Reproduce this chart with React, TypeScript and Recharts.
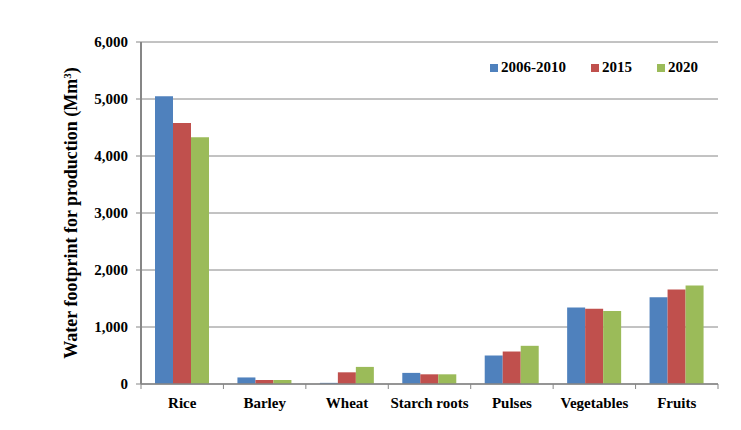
import { BarChart, Bar, XAxis, YAxis, CartesianGrid } from 'recharts';

const categories = ['Rice', 'Barley', 'Wheat', 'Starch roots', 'Pulses', 'Vegetables', 'Fruits'];
const values2006 = [5050, 115, 20, 195, 500, 1340, 1520];
const values2015 = [4580, 70, 205, 170, 570, 1320, 1660];
const values2020 = [4330, 70, 300, 170, 670, 1280, 1730];
const seriesNames = ['2006-2010', '2015', '2020'];
const seriesKeys = ['p2006', 'p2015', 'p2020'];
const seriesColors = ['#4F81BD', '#C0504D', '#9BBB59'];
const yTicks = [0, 1000, 2000, 3000, 4000, 5000, 6000];

const data = categories.map((name, i) => ({
  name,
  p2006: values2006[i],
  p2015: values2015[i],
  p2020: values2020[i],
}));

const font = "'Times New Roman', 'Liberation Serif', serif";
const axisGray = '#868686';

function YLabel() {
  return (
    <text
      x={77}
      y={213}
      transform="rotate(-90 77 213)"
      textAnchor="middle"
      fontFamily={font}
      fontWeight="bold"
      fontSize={18}
      fill="#000"
    >
      Water footprint for production (Mm
      <tspan baselineShift="super" fontSize={11}>3</tspan>)
    </text>
  );
}

// category label plus the boundary tick marks Excel draws between groups
function CatTick(props: any) {
  const { x, y, payload, index } = props;
  const half = payload?.offset || 41.2;
  const y0 = y - 13;
  return (
    <g>
      <line x1={x - half} x2={x - half} y1={y0} y2={y0 + 5} stroke={axisGray} />
      {index === categories.length - 1 && (
        <line x1={x + half} x2={x + half} y1={y0} y2={y0 + 5} stroke={axisGray} />
      )}
      <text
        x={x}
        y={y}
        dy="0.71em"
        textAnchor="middle"
        fill="#000"
        fontFamily={font}
        fontWeight="bold"
        fontSize={15}
      >
        {payload.value}
      </text>
    </g>
  );
}

export default function App() {
  return (
    <div style={{ position: 'absolute', left: 0, top: 0, width: 741, height: 430, background: '#fff' }}>
      <BarChart
        width={741}
        height={430}
        data={data}
        margin={{ top: 42, right: 23, bottom: 10, left: 0 }}
        barCategoryGap={14}
        barGap={0}
      >
        <CartesianGrid vertical={false} stroke={axisGray} strokeWidth={1} />
        <XAxis
          dataKey="name"
          axisLine={{ stroke: axisGray, strokeWidth: 1.5 }}
          tickLine={false}
          tickSize={5}
          tickMargin={8}
          height={36}
          interval={0}
          tick={<CatTick />}
        />
        <YAxis
          width={141}
          domain={[0, 6000]}
          ticks={yTicks}
          interval={0}
          axisLine={{ stroke: axisGray, strokeWidth: 2 }}
          tickLine={{ stroke: axisGray }}
          tickSize={5}
          tickMargin={8}
          tickFormatter={(v) => Number(v).toLocaleString('en-US')}
          tick={{ fill: '#000', fontFamily: font, fontWeight: 'bold', fontSize: 15 }}
          label={{ content: <YLabel /> }}
        />
        {seriesKeys.map((k, i) => (
          <Bar
            key={k}
            dataKey={k}
            name={seriesNames[i]}
            fill={seriesColors[i]}
            isAnimationActive={false}
          />
        ))}
      </BarChart>
      <div
        style={{
          position: 'absolute',
          left: 490,
          top: 59,
          display: 'flex',
          alignItems: 'center',
          fontFamily: font,
          fontWeight: 'bold',
          fontSize: 15,
          color: '#000',
        }}
      >
        {seriesNames.map((n, i) => (
          <div key={n} style={{ display: 'flex', alignItems: 'center', marginRight: 25 }}>
            <span style={{ width: 8, height: 8, background: seriesColors[i], marginRight: 3, display: 'inline-block' }} />
            <span>{n}</span>
          </div>
        ))}
      </div>
    </div>
  );
}
